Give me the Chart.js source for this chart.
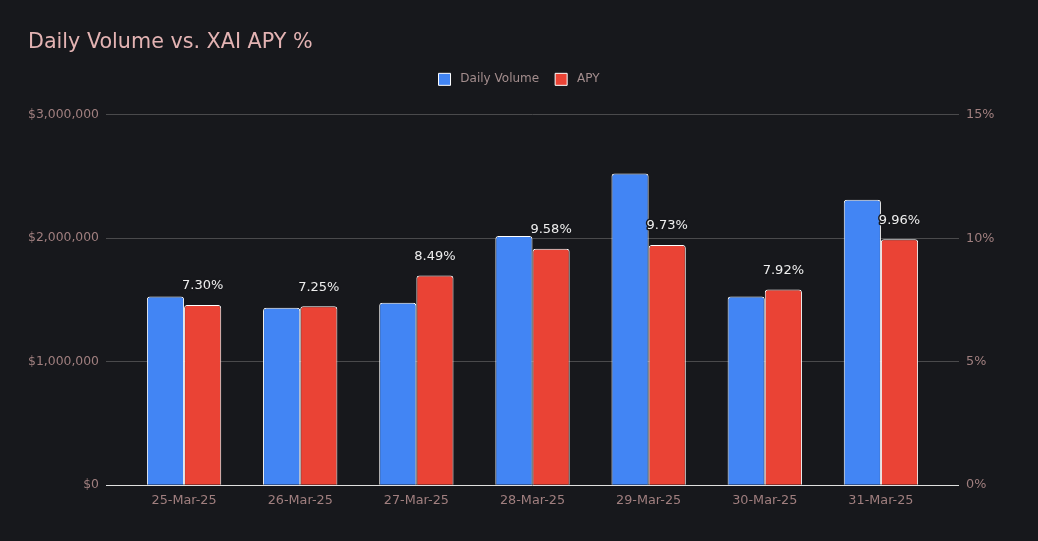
<!DOCTYPE html>
<html>
<head>
<meta charset="utf-8">
<script src="https://cdn.jsdelivr.net/npm/chart.js@4.4.1/dist/chart.umd.min.js"></script>
<style>
  html, body { margin: 0; padding: 0; background: #17181c; }
  #wrap { width: 1038px; height: 541px; position: relative; }
</style>
</head>
<body>
<div id="wrap"><canvas id="c"></canvas></div>
<script>
const categories = ['25-Mar-25', '26-Mar-25', '27-Mar-25', '28-Mar-25', '29-Mar-25', '30-Mar-25', '31-Mar-25'];
const dailyVolume = [1528000, 1437000, 1478000, 2018000, 2525000, 1529000, 2312000];
const apyPercent = [7.30, 7.25, 8.49, 9.58, 9.73, 7.92, 9.96];
const volumeTicks = [0, 1000000, 2000000, 3000000];
const apyTicks = [0, 5, 10, 15];

const BG = '#17181c';
const TICK_COLOR = '#a07f7f';
const GRID_COLOR = '#4a4a4c';
const FONT = 'DejaVu Sans';

const bgPlugin = {
  id: 'bg',
  beforeDraw(chart) {
    const ctx = chart.ctx;
    ctx.save();
    ctx.fillStyle = BG;
    ctx.fillRect(0, 0, chart.width, chart.height);
    ctx.restore();
  }
};

const legendSpacer = {
  id: 'legendSpacer',
  beforeInit(chart) {
    const legend = chart.legend;
    const origFit = legend.fit;
    legend.fit = function () {
      origFit.bind(legend)();
      this.height += 19.5;
    };
  }
};

const labelPlugin = {
  id: 'apyLabels',
  afterDatasetsDraw(chart) {
    const meta = chart.getDatasetMeta(1);
    const ctx = chart.ctx;
    ctx.save();
    ctx.font = '13px "' + FONT + '"';
    ctx.textAlign = 'center';
    ctx.textBaseline = 'middle';
    ctx.lineJoin = 'round';
    meta.data.forEach((el, i) => {
      const txt = apyPercent[i].toFixed(2) + '%';
      const x = el.x;
      const y = el.y - 19;
      ctx.lineWidth = 3;
      ctx.strokeStyle = BG;
      ctx.strokeText(txt, x, y);
      ctx.fillStyle = '#eeeeee';
      ctx.fillText(txt, x, y);
    });
    ctx.restore();
  }
};

new Chart(document.getElementById('c'), {
  type: 'bar',
  data: {
    labels: categories,
    datasets: [
      {
        label: 'Daily Volume',
        data: dailyVolume,
        yAxisID: 'y',
        backgroundColor: '#4285f4',
        borderColor: '#ffffff',
        borderWidth: 1,
        borderRadius: 3,
        categoryPercentage: 0.64,
        barPercentage: 1.0
      },
      {
        label: 'APY',
        data: apyPercent,
        yAxisID: 'y1',
        backgroundColor: '#ea4335',
        borderColor: '#ffffff',
        borderWidth: 1,
        borderRadius: 3,
        categoryPercentage: 0.64,
        barPercentage: 1.0
      }
    ]
  },
  options: {
    responsive: true,
    maintainAspectRatio: false,
    animation: false,
    layout: { padding: { left: 28, right: 28, top: 10, bottom: 24.5 } },
    plugins: {
      title: {
        display: true,
        text: 'Daily Volume vs. XAI APY %',
        align: 'start',
        color: '#e3b3b3',
        font: { family: FONT, size: 20.7, weight: 'normal' },
        padding: { top: 20, bottom: 2.5 }
      },
      legend: {
        display: true,
        labels: {
          color: '#a38d8d',
          font: { family: FONT, size: 12 },
          boxWidth: 12,
          boxHeight: 12,
          padding: 16,
          generateLabels(chart) {
            const items = Chart.defaults.plugins.legend.labels.generateLabels(chart);
            items.forEach(it => { it.text = '\u00a0' + it.text; });
            return items;
          }
        }
      },
      tooltip: { enabled: false }
    },
    scales: {
      x: {
        grid: { display: false, drawTicks: false },
        border: { display: false },
        ticks: { color: TICK_COLOR, font: { family: FONT, size: 12.8 }, padding: 8 }
      },
      y: {
        position: 'left',
        min: 0,
        max: 3000000,
        afterBuildTicks(axis) { axis.ticks = volumeTicks.map(v => ({ value: v })); },
        afterFit(axis) { axis.width = 98; },
        border: { display: false },
        grid: {
          color: ctx => (ctx.tick && ctx.tick.value === 0) ? '#e0e0e0' : GRID_COLOR,
          lineWidth: 1,
          drawTicks: true,
          tickLength: 20
        },
        ticks: {
          color: TICK_COLOR,
          font: { family: FONT, size: 12.4 },
          padding: 7,
          callback: v => '$' + Number(v).toLocaleString('en-US')
        }
      },
      y1: {
        position: 'right',
        min: 0,
        max: 15,
        afterBuildTicks(axis) { axis.ticks = apyTicks.map(v => ({ value: v })); },
        afterFit(axis) { axis.width = 71; },
        border: { display: false },
        grid: {
          drawOnChartArea: false,
          color: ctx => (ctx.tick && ctx.tick.value === 0) ? '#e0e0e0' : GRID_COLOR,
          drawTicks: true,
          tickLength: 20
        },
        ticks: {
          color: TICK_COLOR,
          font: { family: FONT, size: 12.8 },
          padding: 7,
          callback: v => v + '%'
        }
      }
    }
  },
  plugins: [bgPlugin, legendSpacer, labelPlugin]
});
</script>
</body>
</html>
